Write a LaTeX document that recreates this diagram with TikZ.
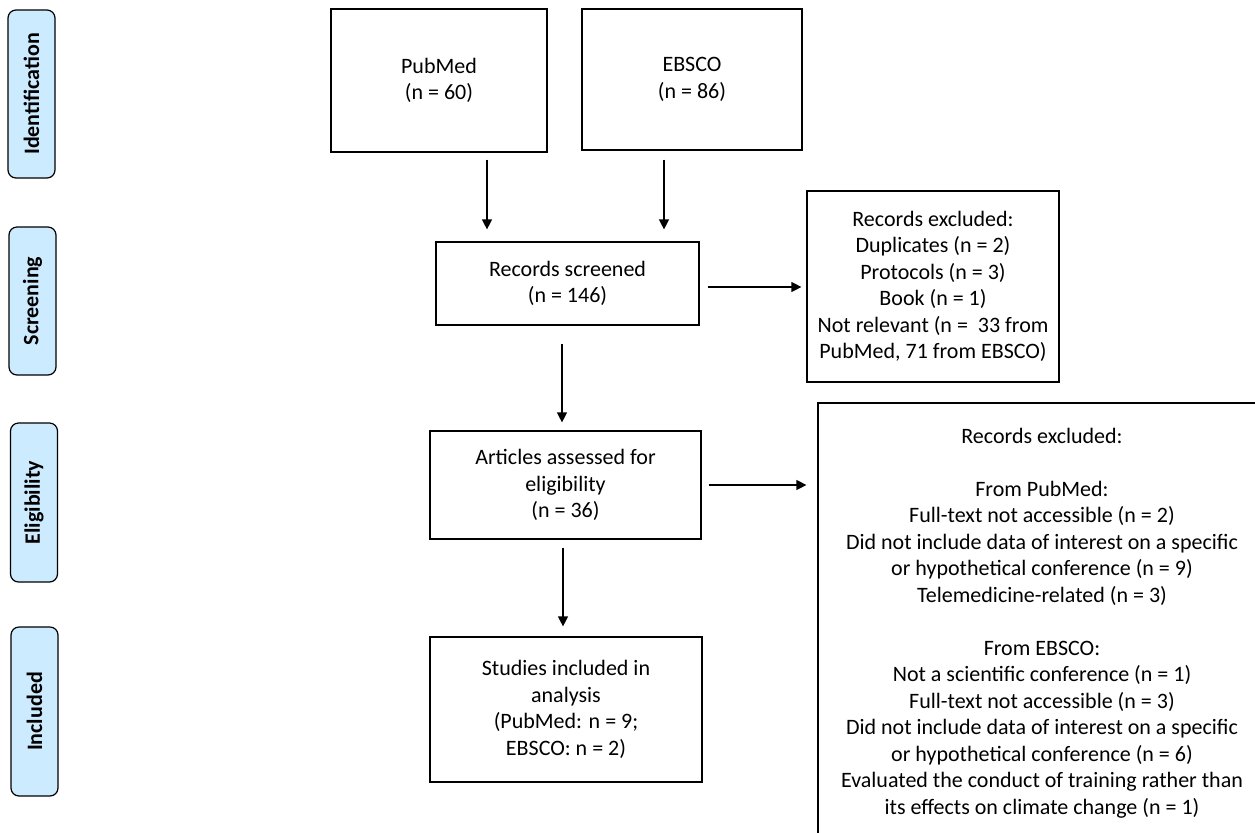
\documentclass[tikz,border=0pt]{standalone}
\usepackage{fontspec}
\setmainfont{Carlito}
\usepackage{xcolor}
\usepackage{tikz}
\usetikzlibrary{arrows.meta,positioning,calc}
\definecolor{phase}{RGB}{204,235,255}
\definecolor{ink}{RGB}{0,0,0}

\begin{document}
\begin{tikzpicture}[x=0.5pt,y=-0.5pt,>={Triangle[length=5pt,width=5pt]},font=\fontsize{11}{13.25}\selectfont]
\tikzset{stage/.style={draw=ink,fill=phase,rounded corners=4pt,rotate=90,minimum height=23.5pt,inner sep=0pt,font=\fontsize{11}{13}\selectfont\bfseries,line width=0.6pt},
  box/.style={draw=ink,align=center,inner sep=0pt,line width=0.6pt},
  arr/.style={->,line width=0.6pt,draw=ink}}
\useasboundingbox (0,0) rectangle (1255,832);
\clip (0,0) rectangle (1255,832);
% phases
\node[stage,minimum width=84pt] (idf) at (31.5,94) {Identification};
\node[stage,minimum width=74pt] (scrn) at (32.5,301) {Screening};
\node[stage,minimum width=79.5pt] (elig) at (34,502.5) {Eligibility};
\node[stage,minimum width=84.5pt] (incl) at (34.5,711.5) {Included};
% boxes
\node[box,minimum width=108pt,minimum height=71.5pt] (pub) at (439,80.5) {PubMed\\(n = 60)};
\node[box,minimum width=110pt,minimum height=70.5pt] (ebs) at (692,79.5) {EBSCO\\(n = 86)};
\node[box,minimum width=131.5pt,minimum height=41.5pt] (scr) at (567.5,283.5) {Records screened\\(n = 146)};
\node[box,minimum width=126pt,minimum height=95.5pt] (exa) at (933,286.5) {Records excluded:\\Duplicates (n = 2)\\Protocols (n = 3)\\Book (n = 1)\\Not relevant (n =\ \ 33 from\\PubMed, 71 from EBSCO)};
\node[box,minimum width=135.5pt,minimum height=54pt] (art) at (565.5,485) {Articles assessed for\\eligibility\\(n = 36)};
\node[box,minimum width=136pt,minimum height=72.5pt] (stu) at (566,709.5) {Studies included in\\analysis\\(PubMed: n = 9;\\EBSCO: n = 2)};
\node[box,minimum width=224pt,minimum height=220pt] (exb) at (1042,623) {Records excluded:\\ \mbox{}\\From PubMed:\\Full-text not accessible (n = 2)\\Did not include data of interest on a specific\\or hypothetical conference (n = 9)\\Telemedicine-related (n = 3)\\ \mbox{}\\From EBSCO:\\Not a scientific conference (n = 1)\\Full-text not accessible (n = 3)\\Did not include data of interest on a specific\\or hypothetical conference (n = 6)\\Evaluated the conduct of training rather than\\its effects on climate change (n = 1)};
% arrows
\draw[arr,shorten <=3.5pt,shorten >=6pt] ([xshift=24pt]pub.south) -- ([xshift=24pt]pub.south |- scr.north);
\draw[arr,shorten <=4.5pt,shorten >=6pt] ([xshift=-14pt]ebs.south) -- ([xshift=-14pt]ebs.south |- scr.north);
\draw[arr,shorten <=4pt,shorten >=2.5pt] ([yshift=-1.75pt]scr.east) -- ([yshift=-1.75pt]scr.east -| exa.west);
\draw[arr,shorten <=9pt,shorten >=4pt] ([xshift=-2.75pt]scr.south) -- ([xshift=-2.75pt]scr.south |- art.north);
\draw[arr,shorten <=3.5pt,shorten >=5.5pt] (art.east) -- (art.east -| exb.west);
\draw[arr,shorten <=4pt,shorten >=5pt] ([xshift=-1.25pt]art.south) -- ([xshift=-1.25pt]art.south |- stu.north);
\end{tikzpicture}
\end{document}
